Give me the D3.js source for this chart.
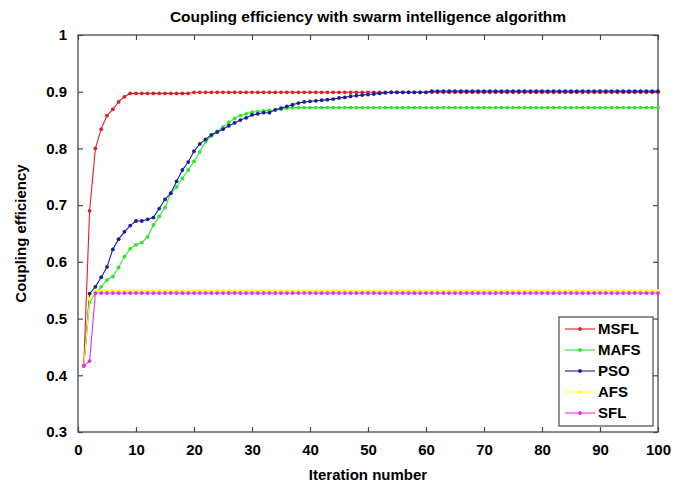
<!DOCTYPE html>
<html>
<head>
<meta charset="utf-8">
<script src="https://cdn.jsdelivr.net/npm/d3@7/dist/d3.min.js"></script>
<style>
  html, body { margin: 0; padding: 0; background: #fff; }
  svg { display: block; }
  text { font-family: "Liberation Sans", Arial, sans-serif; font-weight: bold; fill: #000; }
</style>
</head>
<body>
<svg id="chart" width="686" height="485"></svg>
<script>
// ---------- data ----------
const seriesNames = ["MSFL", "MAFS", "PSO", "AFS", "SFL"];
const seriesColors = ["#d62424", "#2ee62e", "#1c1ca0", "#ffff2a", "#e62ee6"];

const msfl = [0.417, 0.690, 0.800, 0.834, 0.858, 0.869, 0.882, 0.891, 0.897,
  0.897, 0.897, 0.897, 0.897, 0.897, 0.897, 0.897, 0.897, 0.897, 0.897,
  0.899, 0.899, 0.899, 0.899, 0.899, 0.899, 0.899, 0.899, 0.899, 0.899,
  0.899, 0.899, 0.899, 0.899, 0.899, 0.899, 0.899, 0.899, 0.899, 0.899,
  0.899, 0.899, 0.899, 0.899, 0.899, 0.899, 0.899, 0.899, 0.899, 0.899,
  0.899, 0.899, 0.899, 0.899, 0.899, 0.899, 0.899, 0.899, 0.899, 0.899,
  0.899, 0.899, 0.899, 0.899, 0.899, 0.899, 0.899, 0.899, 0.899, 0.899,
  0.899, 0.899, 0.899, 0.899, 0.899, 0.899, 0.899, 0.899, 0.899, 0.899,
  0.899, 0.899, 0.899, 0.899, 0.899, 0.899, 0.899, 0.899, 0.899, 0.899,
  0.899, 0.899, 0.899, 0.899, 0.899, 0.899, 0.899, 0.899, 0.899, 0.899,
  0.899];

const mafs = [0.417, 0.528, 0.545, 0.556, 0.568, 0.574, 0.590, 0.609, 0.623, 0.630,
  0.634, 0.644, 0.665, 0.680, 0.696, 0.721, 0.732, 0.747, 0.762, 0.777,
  0.794, 0.812, 0.822, 0.830, 0.838, 0.846, 0.853, 0.858, 0.861, 0.864,
  0.865, 0.866, 0.867, 0.868, 0.869, 0.871, 0.872, 0.872, 0.872, 0.872,
  0.872, 0.872, 0.872, 0.872, 0.872, 0.872, 0.872, 0.872, 0.872, 0.872,
  0.872, 0.872, 0.872, 0.872, 0.872, 0.872, 0.872, 0.872, 0.872, 0.872,
  0.872, 0.872, 0.872, 0.872, 0.872, 0.872, 0.872, 0.872, 0.872, 0.872,
  0.872, 0.872, 0.872, 0.872, 0.872, 0.872, 0.872, 0.872, 0.872, 0.872,
  0.872, 0.872, 0.872, 0.872, 0.872, 0.872, 0.872, 0.872, 0.872, 0.872,
  0.872, 0.872, 0.872, 0.872, 0.872, 0.872, 0.872, 0.872, 0.872, 0.872];

const pso = [0.417, 0.544, 0.556, 0.573, 0.591, 0.622, 0.640, 0.653, 0.664, 0.672,
  0.672, 0.675, 0.678, 0.694, 0.710, 0.721, 0.742, 0.762, 0.776, 0.795,
  0.808, 0.816, 0.824, 0.829, 0.834, 0.840, 0.845, 0.850, 0.854, 0.859,
  0.861, 0.863, 0.863, 0.868, 0.871, 0.874, 0.877, 0.880, 0.882, 0.883,
  0.884, 0.885, 0.886, 0.887, 0.889, 0.890, 0.892, 0.893, 0.894, 0.895,
  0.896, 0.897, 0.898, 0.899, 0.899, 0.899, 0.899, 0.899, 0.899, 0.899,
  0.901, 0.901, 0.901, 0.901, 0.901, 0.901, 0.901, 0.901, 0.901, 0.901,
  0.901, 0.901, 0.901, 0.901, 0.901, 0.901, 0.901, 0.901, 0.901, 0.901,
  0.901, 0.901, 0.901, 0.901, 0.901, 0.901, 0.901, 0.901, 0.901, 0.901,
  0.901, 0.901, 0.901, 0.901, 0.901, 0.901, 0.901, 0.901, 0.901, 0.901];

const afs = [0.417, 0.535, 0.549, 0.549, 0.549, 0.549, 0.549, 0.549, 0.549, 0.549,
  0.549, 0.549, 0.549, 0.549, 0.549, 0.549, 0.549, 0.549, 0.549, 0.549,
  0.549, 0.549, 0.549, 0.549, 0.549, 0.549, 0.549, 0.549, 0.549, 0.549,
  0.549, 0.549, 0.549, 0.549, 0.549, 0.549, 0.549, 0.549, 0.549, 0.549,
  0.549, 0.549, 0.549, 0.549, 0.549, 0.549, 0.549, 0.549, 0.549, 0.549,
  0.549, 0.549, 0.549, 0.549, 0.549, 0.549, 0.549, 0.549, 0.549, 0.549,
  0.549, 0.549, 0.549, 0.549, 0.549, 0.549, 0.549, 0.549, 0.549, 0.549,
  0.549, 0.549, 0.549, 0.549, 0.549, 0.549, 0.549, 0.549, 0.549, 0.549,
  0.549, 0.549, 0.549, 0.549, 0.549, 0.549, 0.549, 0.549, 0.549, 0.549,
  0.549, 0.549, 0.549, 0.549, 0.549, 0.549, 0.549, 0.549, 0.549, 0.549];

const sfl = [0.417, 0.425, 0.545, 0.545, 0.545, 0.545, 0.545, 0.545, 0.545, 0.545,
  0.545, 0.545, 0.545, 0.545, 0.545, 0.545, 0.545, 0.545, 0.545, 0.545,
  0.545, 0.545, 0.545, 0.545, 0.545, 0.545, 0.545, 0.545, 0.545, 0.545,
  0.545, 0.545, 0.545, 0.545, 0.545, 0.545, 0.545, 0.545, 0.545, 0.545,
  0.545, 0.545, 0.545, 0.545, 0.545, 0.545, 0.545, 0.545, 0.545, 0.545,
  0.545, 0.545, 0.545, 0.545, 0.545, 0.545, 0.545, 0.545, 0.545, 0.545,
  0.545, 0.545, 0.545, 0.545, 0.545, 0.545, 0.545, 0.545, 0.545, 0.545,
  0.545, 0.545, 0.545, 0.545, 0.545, 0.545, 0.545, 0.545, 0.545, 0.545,
  0.545, 0.545, 0.545, 0.545, 0.545, 0.545, 0.545, 0.545, 0.545, 0.545,
  0.545, 0.545, 0.545, 0.545, 0.545, 0.545, 0.545, 0.545, 0.545, 0.545];

const xTicks = [0, 10, 20, 30, 40, 50, 60, 70, 80, 90, 100];
const yTicks = [0.3, 0.4, 0.5, 0.6, 0.7, 0.8, 0.9, 1];
const yTickLabels = ["0.3", "0.4", "0.5", "0.6", "0.7", "0.8", "0.9", "1"];

const titleText = "Coupling efficiency with swarm intelligence algorithm";
const xTitle = "Iteration number";
const yTitle = "Coupling efficiency";

// ---------- layout ----------
const W = 686, H = 485;
const pL = 78, pR = 658, pT = 35, pB = 432;

const svg = d3.select("#chart");
const x = d3.scaleLinear().domain([0, 100]).range([pL, pR]);
const y = d3.scaleLinear().domain([0.3, 1]).range([pB, pT]);

const allSeries = [msfl, mafs, pso, afs, sfl].map((vals, i) => ({
  name: seriesNames[i], color: seriesColors[i],
  points: vals.map((v, j) => ({ it: j + 1, v }))
}));

// axes frame & ticks
const frameColor = "#4a4a4a";
svg.append("rect").attr("x", pL).attr("y", pT)
  .attr("width", pR - pL).attr("height", pB - pT)
  .attr("fill", "none").attr("stroke", frameColor).attr("stroke-width", 1.3);

function styleAxis(g, hideText) {
  g.select(".domain").remove();
  g.selectAll(".tick line").attr("stroke", frameColor).attr("stroke-width", 1.2);
  g.selectAll(".tick text").style("font-size", "15px").style("font-weight", "bold")
    .attr("fill", "#000");
  if (hideText) g.selectAll(".tick text").remove();
}

const tickLen = 5;
svg.append("g").attr("transform", `translate(0,${pB})`)
  .call(d3.axisBottom(x).tickValues(xTicks).tickSizeInner(-tickLen).tickSizeOuter(0).tickPadding(12)
    .tickFormat(d3.format("d")))
  .call(g => styleAxis(g, false));
svg.append("g").attr("transform", `translate(0,${pT})`)
  .call(d3.axisTop(x).tickValues(xTicks).tickSizeInner(-tickLen).tickSizeOuter(0))
  .call(g => styleAxis(g, true));
svg.append("g").attr("transform", `translate(${pL},0)`)
  .call(d3.axisLeft(y).tickValues(yTicks).tickSizeInner(-tickLen).tickSizeOuter(0).tickPadding(11)
    .tickFormat((d, i) => yTickLabels[i]))
  .call(g => styleAxis(g, false));
svg.append("g").attr("transform", `translate(${pR},0)`)
  .call(d3.axisRight(y).tickValues(yTicks).tickSizeInner(-tickLen).tickSizeOuter(0))
  .call(g => styleAxis(g, true));

// series
const line = d3.line().x(d => x(d.it)).y(d => y(d.v));
const plot = svg.append("g");
allSeries.forEach(s => {
  const g = plot.append("g");
  g.append("path").datum(s.points).attr("d", line)
    .attr("fill", "none").attr("stroke", s.color).attr("stroke-width", 1.1);
  g.selectAll("circle").data(s.points).join("circle")
    .attr("cx", d => x(d.it)).attr("cy", d => y(d.v)).attr("r", 1.9)
    .attr("fill", s.color);
});

// legend
const lg = svg.append("g");
const lgX = 559, lgY = 317, lgW = 94, lgH = 109;
lg.append("rect").attr("x", lgX).attr("y", lgY).attr("width", lgW).attr("height", lgH)
  .attr("fill", "#fff").attr("stroke", frameColor).attr("stroke-width", 1.2);
allSeries.forEach((s, i) => {
  const cy = lgY + 12 + i * 21;
  lg.append("line").attr("x1", lgX + 6).attr("x2", lgX + 36).attr("y1", cy).attr("y2", cy)
    .attr("stroke", s.color).attr("stroke-width", 1.1);
  lg.append("circle").attr("cx", lgX + 21).attr("cy", cy).attr("r", 1.9).attr("fill", s.color);
  lg.append("text").attr("x", lgX + 39).attr("y", cy).attr("dy", "0.36em")
    .style("font-size", "15px").text(s.name);
});

// titles
svg.append("text").attr("x", (pL + pR) / 2).attr("y", 22).attr("text-anchor", "middle")
  .style("font-size", "15.5px").text(titleText);
svg.append("text").attr("x", (pL + pR) / 2).attr("y", 480).attr("text-anchor", "middle")
  .style("font-size", "15px").text(xTitle);
svg.append("text").attr("transform", `translate(26,${(pT + pB) / 2}) rotate(-90)`)
  .attr("text-anchor", "middle").style("font-size", "15px").text(yTitle);
</script>
</body>
</html>
